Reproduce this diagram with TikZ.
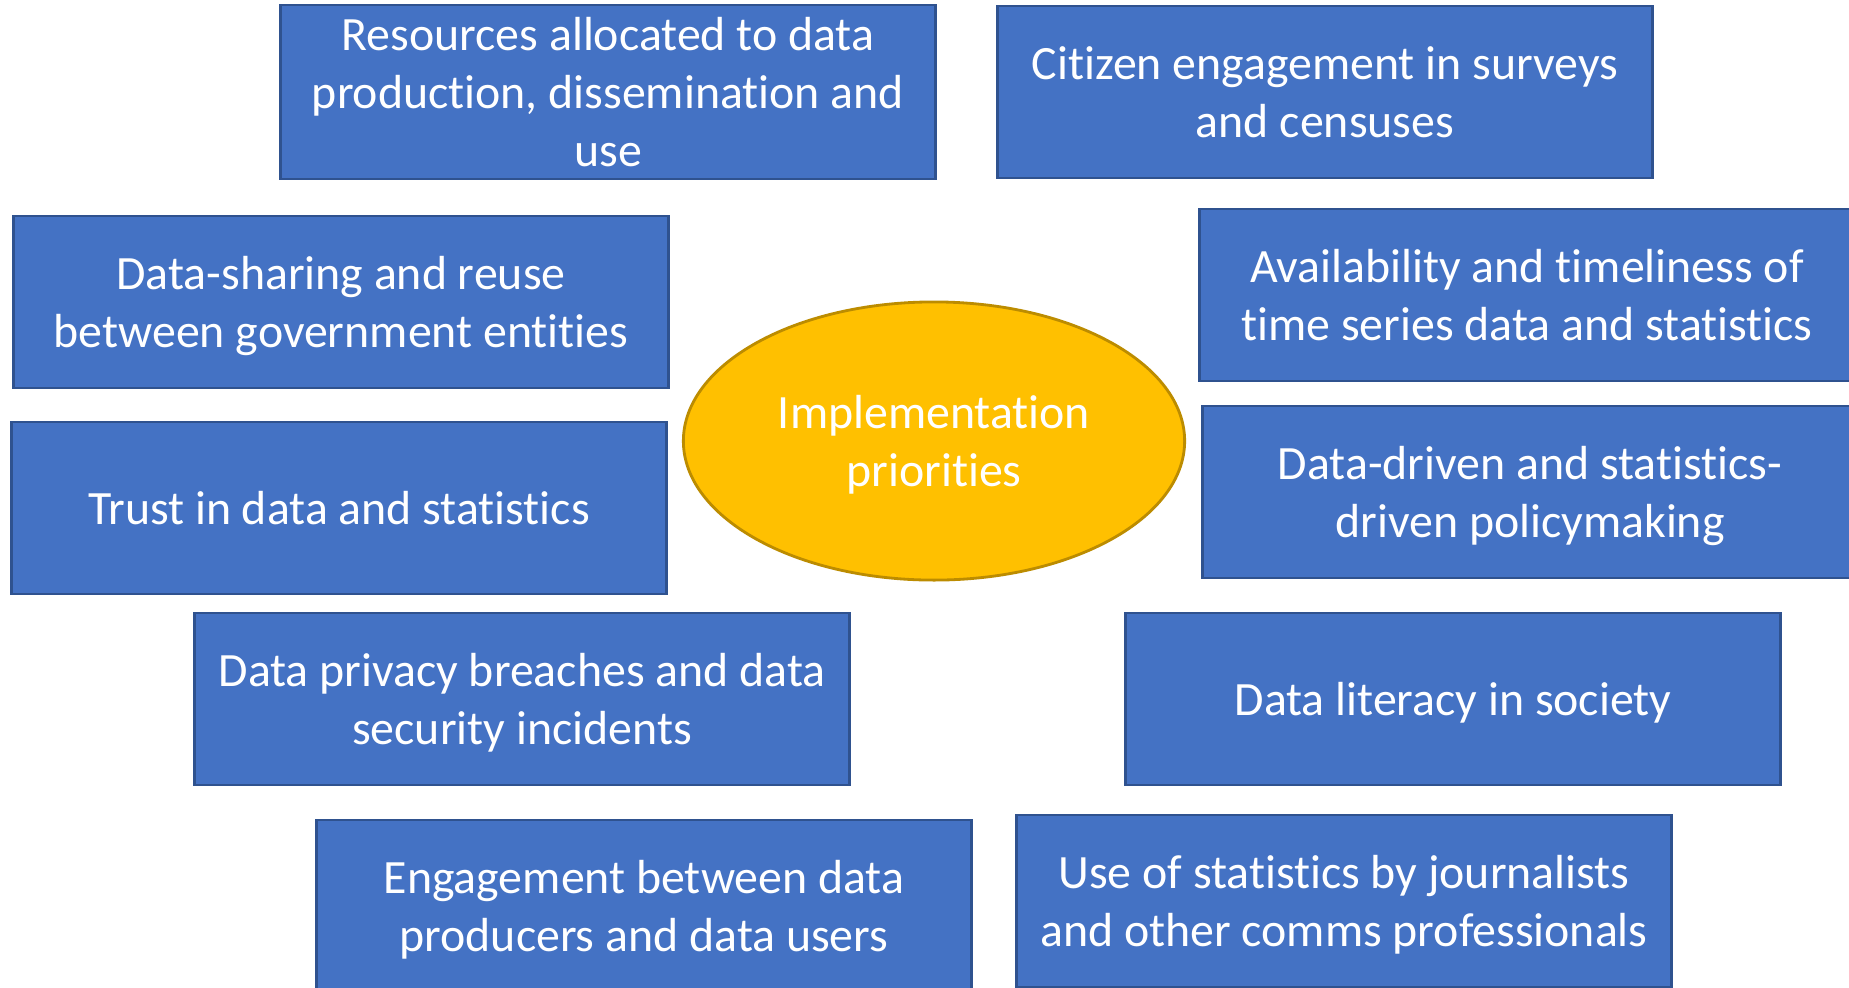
\documentclass[tikz,border=0pt]{standalone}
\usepackage{fontspec}
\setmainfont{Carlito}[Ligatures=NoCommon]
\usepackage{tikz}
\usetikzlibrary{shapes.geometric}
\definecolor{boxblue}{HTML}{4472C4}
\definecolor{boxedge}{HTML}{2F528F}
\definecolor{hubgold}{HTML}{FFC000}
\definecolor{hubedge}{HTML}{BC8C00}
\newcommand\lineprop{\rule[-3.6pt]{0pt}{16.5pt}}

\begin{document}
\begin{tikzpicture}[
  x=0.01cm, y=-0.01cm,
  prio box/.style={
    draw=boxedge, fill=boxblue, line width=0.8pt,
    minimum width=6.54cm, minimum height=1.72cm, inner sep=0pt,
    text=white, text width=6.4cm, align=flush center,
    font=\fontsize{13.6}{16.5}\selectfont,
    execute at begin node=\lineprop, execute at end node=\lineprop,
  },
  hub/.style={
    ellipse, draw=hubedge, fill=hubgold, line width=0.8pt,
    minimum width=5.01cm, minimum height=2.78cm, inner sep=0pt,
    text=white, text width=3.4cm, align=flush center,
    font=\fontsize{13.6}{16.5}\selectfont,
    execute at begin node=\lineprop, execute at end node=\lineprop,
  }]
  \clip (0,0) rectangle (1849,987);
  \fill[white] (0,0) rectangle (1849,987);
  \node[prio box] (resources) at (608,92) {Resources allocated to data\\production, dissemination and\\use};
  \node[prio box] (citizens) at (1325,92) {Citizen engagement in surveys\\and censuses};
  \node[prio box] (sharing) at (341,302) {Data-sharing and reuse\\between government entities};
  \node[prio box] (timeseries) at (1527,295) {Availability and timeliness of\\time series data and statistics};
  \node[prio box] (trust) at (339,508) {Trust in data and statistics};
  \node[prio box] (policy) at (1530,492) {Data-driven and statistics-\\driven policymaking};
  \node[hub] (priorities) at (934,441) {Implementation\\priorities};
  \node[prio box] (privacy) at (522,699) {Data privacy breaches and data\\security incidents};
  \node[prio box] (literacy) at (1453,699) {Data literacy in society};
  \node[prio box] (engagement) at (644,906) {Engagement between data\\producers and data users};
  \node[prio box] (journalists) at (1344,901) {Use of statistics by journalists\\and other comms professionals};
\end{tikzpicture}
\end{document}
